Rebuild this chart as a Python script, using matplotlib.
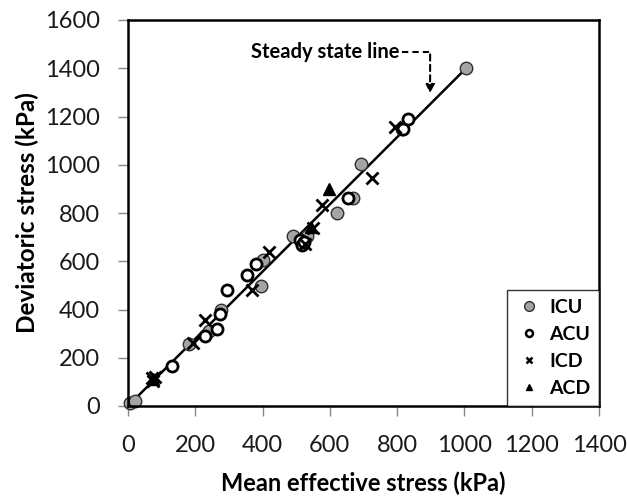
import matplotlib
matplotlib.use("Agg")
import matplotlib.pyplot as plt
from matplotlib.lines import Line2D

plt.rcParams['font.family'] = ['Lato', 'DejaVu Sans']

# Data (kPa)
icu_x = [5, 20, 181, 240, 275, 394, 402, 491, 531, 620, 668, 692, 815, 1005]
icu_y = [12, 22, 255, 310, 396, 497, 606, 703, 705, 800, 862, 1005, 1150, 1400]

acu_x = [130, 229, 265, 274, 295, 353, 380, 511, 516, 522, 655, 818, 833]
acu_y = [166, 290, 320, 380, 482, 545, 588, 688, 667, 678, 863, 1150, 1190]

icd_x = [70, 75, 80, 194, 229, 370, 420, 526, 551, 576, 724, 794]
icd_y = [115, 105, 120, 262, 358, 481, 638, 672, 736, 833, 946, 1158]

acd_x = [75, 545, 597]
acd_y = [110, 740, 900]

ssl_x = [0, 1005]
ssl_y = [0, 1400]

x_ticks = [0, 200, 400, 600, 800, 1000, 1200, 1400]
y_ticks = [0, 200, 400, 600, 800, 1000, 1200, 1400, 1600]

fig = plt.figure(figsize=(6.27, 4.99), dpi=100)
ax = fig.add_axes([128/627, 93/499, 471/627, 386/499])

ax.plot(ssl_x, ssl_y, color='black', lw=1.8, zorder=1)

ax.plot(icu_x, icu_y, ls='none', marker='o', ms=9, mfc='#a4a4a4', mec='#303030', mew=1.0, zorder=2, clip_on=False)
ax.plot(acu_x, acu_y, ls='none', marker='o', ms=8, mfc='white', mec='black', mew=2.0, zorder=3, clip_on=False)
ax.plot(icd_x, icd_y, ls='none', marker='x', ms=9, mec='black', mew=2.0, zorder=4, clip_on=False)
ax.plot(acd_x, acd_y, ls='none', marker='^', ms=8, mfc='black', mec='black', mew=1.0, zorder=5, clip_on=False)

ax.set_xlim(0, 1400)
ax.set_ylim(0, 1600)
ax.set_xticks(x_ticks)
ax.set_yticks(y_ticks)
ax.tick_params(axis='both', direction='out', length=7, width=1, color='#888888',
               labelsize=17, labelcolor='#1a1a1a')
ax.tick_params(axis='x', pad=14)
ax.tick_params(axis='y', pad=13.5)
for s in ax.spines.values():
    s.set_linewidth(1.8)
    s.set_color('black')

ax.set_xlabel('Mean effective stress (kPa)', fontsize=17, fontweight='bold', labelpad=11)
ax.set_ylabel('Deviatoric stress (kPa)', fontsize=17.5, fontweight='bold', labelpad=4)

# annotation
ax.text(808, 1467, 'Steady state line', fontsize=14.5, fontweight='bold',
        ha='right', va='center')
ax.plot([815, 898], [1467, 1467], color='black', lw=1.5, ls=(0, (3, 2)))
ax.annotate('', xy=(898, 1285), xytext=(898, 1469),
            arrowprops=dict(arrowstyle='-|>,head_length=0.5,head_width=0.25',
                            ls=(0, (3, 2)), lw=1.5, color='black'))

handles = [
    Line2D([], [], ls='none', marker='o', ms=7, mfc='#a4a4a4', mec='#303030', mew=1.0),
    Line2D([], [], ls='none', marker='o', ms=5, mfc='white', mec='black', mew=1.8),
    Line2D([], [], ls='none', marker='x', ms=5, mec='black', mew=1.8),
    Line2D([], [], ls='none', marker='^', ms=5, mfc='black', mec='black'),
]
leg = ax.legend(handles, ['ICU', 'ACU', 'ICD', 'ACD'], loc='lower right',
                bbox_to_anchor=(1.0, 0.0), borderaxespad=0, frameon=True,
                fancybox=False, edgecolor='black', prop={'weight': 'bold', 'size': 14},
                handletextpad=0.4, labelspacing=0.52, borderpad=0.45, handlelength=1.3)
leg.get_frame().set_linewidth(1.0)

fig.savefig('out.png', dpi=100)
